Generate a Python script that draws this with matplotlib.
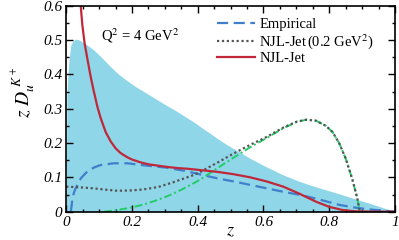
import numpy as np
import matplotlib
matplotlib.use("Agg")
from matplotlib import pyplot as plt
from matplotlib.ticker import MultipleLocator

plt.rcParams['font.family'] = ['Liberation Serif', 'DejaVu Serif']
plt.rcParams['mathtext.fontset'] = 'stix'

# shaded band (upper edge)
band_z = [0.0, 0.002, 0.005, 0.009, 0.014, 0.02, 0.029, 0.04, 0.06, 0.084, 0.11, 0.135,
          0.16, 0.186, 0.21, 0.236, 0.26, 0.287, 0.31, 0.337, 0.36, 0.388, 0.41, 0.438,
          0.46, 0.489, 0.53, 0.56, 0.61, 0.66, 0.71, 0.76, 0.82, 0.86, 0.9, 0.95, 1.0]
band_v = [0.0, 0.34, 0.4, 0.447, 0.486, 0.497, 0.503, 0.5, 0.488, 0.471, 0.447, 0.422,
          0.4, 0.381, 0.365, 0.35, 0.336, 0.32, 0.307, 0.292, 0.278, 0.261, 0.246, 0.228,
          0.213, 0.195, 0.172, 0.155, 0.13, 0.107, 0.088, 0.072, 0.055, 0.043, 0.031, 0.016, 0.0]

# Empirical
emp_z = [0.014, 0.02, 0.027, 0.034, 0.045, 0.064, 0.085, 0.105, 0.145, 0.186, 0.246, 0.307,
         0.36, 0.41, 0.46, 0.51, 0.56, 0.61, 0.66, 0.71, 0.76, 0.83, 0.87, 0.91, 0.95, 1.0]
emp_v = [0.0, 0.045, 0.065, 0.078, 0.098, 0.117, 0.129, 0.136, 0.141, 0.141, 0.134, 0.128,
         0.119, 0.108, 0.097, 0.088, 0.078, 0.068, 0.058, 0.049, 0.038, 0.02, 0.013, 0.008, 0.004, 0.0]

# NJL-Jet at 0.2 GeV^2
njl0_z = [0.0, 0.04, 0.084, 0.12, 0.155, 0.2, 0.236, 0.28, 0.317, 0.35, 0.388, 0.41, 0.46,
          0.51, 0.56, 0.61, 0.66, 0.7, 0.73, 0.76, 0.79, 0.81, 0.83, 0.85, 0.87, 0.885, 0.893]
njl0_v = [0.073, 0.071, 0.068, 0.064, 0.061, 0.062, 0.065, 0.072, 0.083, 0.094, 0.107, 0.117,
          0.143, 0.17, 0.195, 0.218, 0.245, 0.262, 0.268, 0.265, 0.25, 0.232, 0.2, 0.155,
          0.095, 0.04, 0.0]

# green dash-dot curve
grn_z = [0.115, 0.15, 0.186, 0.215, 0.246, 0.28, 0.317, 0.35, 0.388, 0.41, 0.46, 0.51,
         0.56, 0.61, 0.66, 0.7, 0.73, 0.76, 0.79, 0.81, 0.83, 0.85, 0.87, 0.885, 0.893]
grn_v = [0.0, 0.004, 0.01, 0.016, 0.024, 0.035, 0.049, 0.064, 0.083, 0.095, 0.127, 0.158,
         0.188, 0.215, 0.243, 0.261, 0.268, 0.265, 0.25, 0.232, 0.2, 0.155, 0.095, 0.04, 0.0]

# NJL-Jet at 4 GeV^2
njl_z = [0.044, 0.049, 0.056, 0.064, 0.074, 0.084, 0.095, 0.105, 0.12, 0.135, 0.15, 0.165,
         0.185, 0.2, 0.225, 0.25, 0.28, 0.31, 0.34, 0.37, 0.41, 0.46, 0.51, 0.56, 0.61,
         0.66, 0.71, 0.76, 0.8, 0.84, 0.88, 0.95, 1.0]
njl_v = [0.6, 0.544, 0.49, 0.447, 0.395, 0.35, 0.305, 0.272, 0.232, 0.205, 0.185, 0.171,
         0.159, 0.152, 0.144, 0.138, 0.134, 0.13, 0.127, 0.125, 0.121, 0.116, 0.109, 0.1,
         0.088, 0.073, 0.052, 0.029, 0.014, 0.005, 0.001, 0.0, 0.0]

x_ticks = [0, 0.2, 0.4, 0.6, 0.8, 1.0]
x_labels = ['0', '0.2', '0.4', '0.6', '0.8', '1']
y_ticks = [0, 0.1, 0.2, 0.3, 0.4, 0.5, 0.6]
y_labels = ['0', '0.1', '0.2', '0.3', '0.4', '0.5', '0.6']

fig = plt.figure(figsize=(3.99, 2.40), dpi=100)
ax = fig.add_axes([0.166, 0.118, 0.824, 0.858])

ax.fill_between(band_z, 0, band_v, color='#8ed6e8', lw=0)
ax.plot(emp_z, emp_v, color='#3f7fcc', lw=1.6, ls=(0, (5, 2.5)), label='Empirical')
ax.plot(grn_z, grn_v, color='#22cc66', lw=1.4, ls=(0, (4, 1.5, 1, 1.5)))
ax.plot(njl0_z, njl0_v, color='#555555', lw=1.6, ls=(0, (1, 1.2)),
        label=r'NJL-Jet$\,$(0.2 GeV$^2$)')
ax.plot(njl_z, njl_v, color='#c0283a', lw=1.6, label='NJL-Jet')

ax.set_xlim(0, 1)
ax.set_ylim(0, 0.6)
ax.set_xticks(x_ticks, x_labels, fontstyle='italic')
ax.set_yticks(y_ticks, y_labels, fontstyle='italic')
ax.xaxis.set_minor_locator(MultipleLocator(0.05))
ax.yaxis.set_minor_locator(MultipleLocator(0.05))
ax.tick_params(which='both', direction='in', top=True, right=True, width=1)
ax.tick_params(which='major', length=5, labelsize=11, pad=3)
ax.tick_params(which='minor', length=2.5)
for sp in ax.spines.values():
    sp.set_linewidth(1.2)

ax.set_xlabel(r'$z$', fontsize=13, labelpad=-5)
ax.set_ylabel(r'$z\ D_u^{\ K^+}$', fontsize=14)
ax.yaxis.set_label_coords(-0.088, 0.58)
ax.text(0.105, 0.5, r'Q$^2$ = 4 GeV$^2$', fontsize=10.5)
ax.legend(loc='upper left', bbox_to_anchor=(0.459, 0.94), frameon=False, fontsize=10.5,
          handlelength=2.6, handletextpad=0.3, labelspacing=0.05, borderaxespad=0,
          borderpad=0)

fig.savefig('out.png', dpi=100)
